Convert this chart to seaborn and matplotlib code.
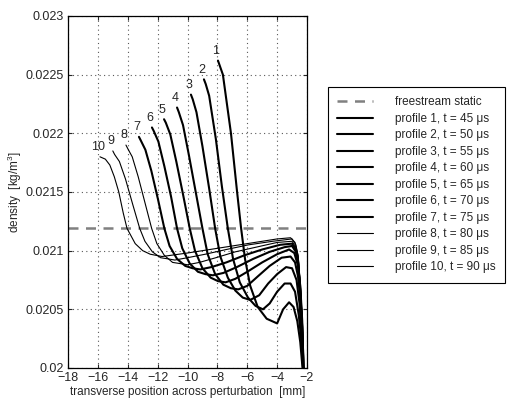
import pandas as pd
import seaborn as sns
import matplotlib.pyplot as plt
from matplotlib.ticker import FormatStrFormatter

# density profiles across the perturbation
pos_1 = [-7.96, -7.85, -7.63, -7.09, -6.68, -6.42, -6.15, -5.8, -5.3, -4.7, -4.0, -3.6, -3.2, -2.9, -2.65, -2.45, -2.3, -2.2]
rho_1 = [0.02262, 0.02258, 0.0225, 0.0220, 0.0215, 0.0212, 0.02093, 0.0207, 0.02052, 0.02042, 0.02038, 0.0205, 0.02056, 0.02052, 0.0204, 0.02022, 0.0200, 0.01985]

pos_2 = [-8.9, -8.78, -8.55, -8.1, -7.7, -7.3, -6.95, -6.5, -5.95, -5.45, -4.95, -4.5, -4.0, -3.5, -3.1, -2.8, -2.55, -2.35, -2.2]
rho_2 = [0.02246, 0.02242, 0.02232, 0.02195, 0.02155, 0.02119, 0.02093, 0.02073, 0.0206, 0.02053, 0.0205, 0.02055, 0.02065, 0.02072, 0.02072, 0.02065, 0.02045, 0.0202, 0.01985]

pos_3 = [-9.77, -9.65, -9.4, -9.0, -8.55, -8.15, -7.8, -7.3, -6.8, -6.3, -5.8, -5.2, -4.6, -4.0, -3.4, -3.0, -2.7, -2.5, -2.35, -2.2]
rho_3 = [0.02233, 0.02229, 0.02218, 0.02189, 0.02153, 0.02119, 0.02095, 0.02077, 0.02066, 0.0206, 0.02058, 0.02062, 0.02072, 0.0208, 0.02086, 0.02085, 0.02075, 0.02055, 0.02025, 0.01985]

pos_4 = [-10.7, -10.58, -10.3, -9.9, -9.45, -9.0, -8.65, -8.15, -7.6, -7.1, -6.6, -6.0, -5.3, -4.5, -3.7, -3.1, -2.8, -2.6, -2.42, -2.3, -2.2]
rho_4 = [0.02222, 0.02218, 0.02207, 0.02181, 0.0215, 0.02119, 0.02097, 0.0208, 0.02071, 0.02068, 0.02067, 0.0207, 0.02078, 0.02087, 0.02094, 0.02095, 0.0209, 0.02078, 0.02055, 0.0203, 0.01985]

pos_5 = [-11.57, -11.45, -11.15, -10.75, -10.3, -9.85, -9.5, -9.0, -8.45, -7.95, -7.45, -6.8, -6.0, -5.0, -4.0, -3.2, -2.85, -2.62, -2.45, -2.32, -2.2]
rho_5 = [0.02212, 0.02209, 0.02199, 0.02176, 0.02148, 0.02119, 0.021, 0.02085, 0.02077, 0.02074, 0.02073, 0.02076, 0.02082, 0.0209, 0.02097, 0.02101, 0.02098, 0.02088, 0.0207, 0.0204, 0.01985]

pos_6 = [-12.38, -12.26, -11.95, -11.55, -11.1, -10.7, -10.35, -9.85, -9.3, -8.8, -8.3, -7.6, -6.7, -5.6, -4.5, -3.5, -3.0, -2.75, -2.6, -2.45, -2.33, -2.2]
rho_6 = [0.02205, 0.02202, 0.02193, 0.02172, 0.02146, 0.02119, 0.02102, 0.02089, 0.02082, 0.0208, 0.02079, 0.02081, 0.02086, 0.02093, 0.02099, 0.02103, 0.02104, 0.02099, 0.0209, 0.02065, 0.02035, 0.01985]

pos_7 = [-13.25, -13.13, -12.82, -12.42, -11.98, -11.55, -11.2, -10.7, -10.15, -9.65, -9.15, -8.4, -7.4, -6.2, -5.0, -3.8, -3.0, -2.75, -2.6, -2.45, -2.33, -2.2]
rho_7 = [0.02197, 0.02194, 0.02186, 0.02168, 0.02144, 0.02119, 0.02104, 0.02093, 0.02087, 0.02085, 0.02084, 0.02086, 0.0209, 0.02096, 0.02101, 0.02105, 0.02106, 0.02101, 0.02092, 0.02067, 0.02037, 0.01985]

pos_8 = [-14.12, -14.0, -13.7, -13.3, -12.85, -12.4, -12.05, -11.55, -11.0, -10.5, -10.0, -9.2, -8.1, -6.8, -5.4, -4.0, -3.0, -2.75, -2.6, -2.45, -2.33, -2.2]
rho_8 = [0.0219, 0.02187, 0.0218, 0.02163, 0.02141, 0.02119, 0.02106, 0.02096, 0.0209, 0.02089, 0.02088, 0.0209, 0.02094, 0.02099, 0.02103, 0.02107, 0.02108, 0.02103, 0.02094, 0.02069, 0.02039, 0.01985]

pos_9 = [-15.0, -14.88, -14.56, -14.15, -13.68, -13.2, -12.85, -12.35, -11.8, -11.3, -10.85, -10.0, -8.8, -7.4, -5.9, -4.3, -3.0, -2.75, -2.6, -2.45, -2.33, -2.2]
rho_9 = [0.02185, 0.02182, 0.02176, 0.02161, 0.0214, 0.02119, 0.02108, 0.02099, 0.02094, 0.02093, 0.02092, 0.02094, 0.02097, 0.02101, 0.02105, 0.02108, 0.0211, 0.02105, 0.02096, 0.02071, 0.02041, 0.01985]

pos_10 = [-15.86, -15.5, -15.2, -14.9, -14.6, -14.3, -14.05, -13.5, -13.0, -12.5, -11.7, -10.0, -8.0, -6.0, -4.0, -3.1, -2.8, -2.6, -2.45, -2.33, -2.2]
rho_10 = [0.0218, 0.02178, 0.02173, 0.02163, 0.0215, 0.02132, 0.02119, 0.02106, 0.021, 0.02097, 0.02095, 0.02098, 0.02102, 0.02106, 0.0211, 0.02111, 0.02107, 0.02096, 0.02072, 0.02042, 0.01985]

times_us = [45, 50, 55, 60, 65, 70, 75, 80, 85, 90]
freestream_rho = 0.02119

positions = [pos_1, pos_2, pos_3, pos_4, pos_5, pos_6, pos_7, pos_8, pos_9, pos_10]
densities = [rho_1, rho_2, rho_3, rho_4, rho_5, rho_6, rho_7, rho_8, rho_9, rho_10]

sns.set_style('ticks')
plt.rcParams['font.family'] = ['Liberation Sans', 'DejaVu Sans']
plt.rcParams['mathtext.default'] = 'regular'

fig = plt.figure(figsize=(5.12, 3.98), dpi=100)
ax = fig.add_axes([68/512, 30/398, 239/512, 352/398])

ax.axhline(freestream_rho, color='0.5', lw=1.8, dashes=(4, 3), label='freestream static')

for i in range(10):
    df = pd.DataFrame({'pos': positions[i], 'rho': densities[i]})
    lw = 1.5 if i < 7 else 0.8
    sns.lineplot(data=df, x='pos', y='rho', ax=ax, color='k', lw=lw, sort=False,
                 estimator=None, label='profile %d, t = %d \u03bcs' % (i + 1, times_us[i]))
    ax.annotate(str(i + 1), (positions[i][0], densities[i][0]), xytext=(-1.5, 7),
                textcoords='offset points', ha='center', va='center', fontsize=9)

ax.set_xlim(-18, -2)
ax.set_ylim(0.02, 0.023)
ax.set_xticks(range(-18, -1, 2))
ax.set_yticks([0.02, 0.0205, 0.021, 0.0215, 0.022, 0.0225, 0.023])
ax.yaxis.set_major_formatter(FormatStrFormatter('%g'))
ax.grid(True, linestyle=(0, (1, 3)), color='0.35', lw=0.8)
ax.set_axisbelow(True)
ax.tick_params(direction='in', top=True, right=True, length=3, width=0.8, labelsize=9, pad=3)
for s in ax.spines.values():
    s.set_color('k')
    s.set_linewidth(0.9)

ax.set_xlabel('transverse position across perturbation  [mm]', fontsize=8.5, labelpad=1)
ax.set_ylabel('density  [kg/m$^3$]', fontsize=8.5, labelpad=1)

leg = ax.legend(loc='upper left', bbox_to_anchor=(328/512, 1 - 87/398), bbox_transform=fig.transFigure,
                borderaxespad=0, fontsize=8.5, handlelength=3.0, handletextpad=1.9,
                labelspacing=0.38, borderpad=0.8, fancybox=False, framealpha=1)
leg.get_frame().set_edgecolor('k')
leg.get_frame().set_linewidth(0.8)

fig.savefig('out.png', dpi=100)
